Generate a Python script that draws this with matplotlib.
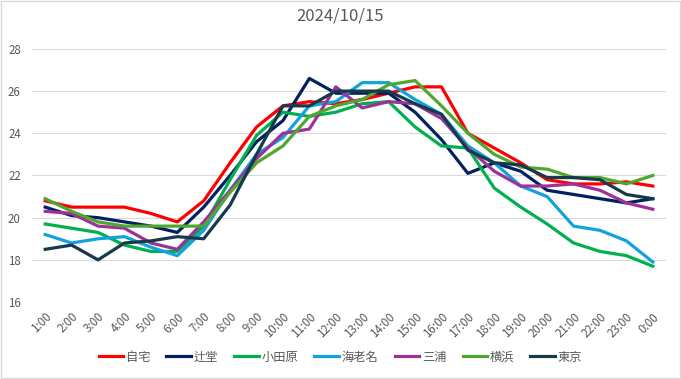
import matplotlib
matplotlib.use('Agg')
import matplotlib.pyplot as plt
from matplotlib.patches import Rectangle

plt.rcParams['font.family'] = ['Noto Sans CJK JP', 'DejaVu Sans']

# hourly labels
hours = ['1:00', '2:00', '3:00', '4:00', '5:00', '6:00', '7:00', '8:00', '9:00', '10:00',
         '11:00', '12:00', '13:00', '14:00', '15:00', '16:00', '17:00', '18:00', '19:00',
         '20:00', '21:00', '22:00', '23:00', '0:00']

# temperature per location
jitaku = [20.8, 20.5, 20.5, 20.5, 20.2, 19.8, 20.8, 22.6, 24.3, 25.3, 25.5, 25.4,
          25.6, 25.9, 26.2, 26.2, 24.0, 23.3, 22.6, 21.8, 21.6, 21.6, 21.7, 21.5]
tsujido = [20.5, 20.1, 20.0, 19.8, 19.6, 19.3, 20.5, 22.0, 23.6, 24.6, 26.6, 25.9,
           25.9, 25.9, 25.0, 23.7, 22.1, 22.6, 22.2, 21.3, 21.1, 20.9, 20.7, 20.9]
odawara = [19.7, 19.5, 19.3, 18.7, 18.4, 18.4, 19.6, 21.8, 23.9, 25.0, 24.8, 25.0,
           25.4, 25.5, 24.3, 23.4, 23.3, 21.4, 20.5, 19.7, 18.8, 18.4, 18.2, 17.7]
ebina = [19.2, 18.8, 19.0, 19.1, 18.6, 18.2, 19.4, 21.3, 23.0, 23.8, 25.3, 25.5,
         26.4, 26.4, 25.6, 24.9, 23.4, 22.6, 21.5, 21.0, 19.6, 19.4, 18.9, 17.9]
miura = [20.3, 20.2, 19.6, 19.5, 18.8, 18.5, 19.8, 21.3, 22.8, 24.0, 24.2, 26.2,
         25.2, 25.5, 25.4, 24.7, 23.3, 22.2, 21.5, 21.5, 21.6, 21.3, 20.7, 20.4]
yokohama = [20.9, 20.3, 19.8, 19.6, 19.6, 19.6, 19.6, 21.2, 22.6, 23.4, 24.8, 25.3,
            25.6, 26.3, 26.5, 25.3, 24.0, 23.0, 22.4, 22.3, 21.9, 21.9, 21.6, 22.0]
tokyo = [18.5, 18.7, 18.0, 18.8, 18.9, 19.1, 19.0, 20.6, 23.0, 25.3, 25.3, 26.0,
         26.0, 26.0, 25.4, 24.9, 23.2, 22.6, 22.5, 21.9, 21.9, 21.8, 21.1, 20.9]

series = [('自宅', jitaku, '#FF0000'),
          ('辻堂', tsujido, '#002060'),
          ('小田原', odawara, '#00B050'),
          ('海老名', ebina, '#12A2DE'),
          ('三浦', miura, '#9E3199'),
          ('横浜', yokohama, '#4EA72E'),
          ('東京', tokyo, '#163A4C')]

fig = plt.figure(figsize=(6.81, 3.79), dpi=100)
ax = fig.add_axes([0.047, 0.203, 0.931, 0.668])

x = list(range(len(hours)))
for name, vals, col in series:
    ax.plot(x, vals, color=col, linewidth=2.3, label=name)

ax.set_xlim(-0.5, len(hours) - 0.5)
ax.set_ylim(16, 28)
ax.set_yticks([16, 18, 20, 22, 24, 26, 28])
ax.set_xticks(x)
ax.set_xticklabels(hours, rotation=45, ha='right', rotation_mode='anchor')
ax.grid(axis='y', color='#D9D9D9', linewidth=0.8)
ax.set_axisbelow(True)
for s in ax.spines.values():
    s.set_visible(False)
ax.tick_params(length=0, colors='#595959', labelsize=8.3)
ax.tick_params(axis='x', pad=6)
ax.tick_params(axis='y', pad=8)

fig.suptitle('2024/10/15', x=0.5, y=0.98, fontsize=12, color='#595959')

fig.legend(loc='center', bbox_to_anchor=(0.5, 0.058), ncol=7, frameon=False,
           fontsize=8.8, handlelength=2.0, columnspacing=1.3, handletextpad=0.25,
           labelcolor='#595959')

fig.patches.append(Rectangle((0.001, 0.002), 0.997, 0.995, transform=fig.transFigure,
                             fill=False, edgecolor='#D9D9D9', linewidth=1))

plt.savefig('out.png', dpi=100)
